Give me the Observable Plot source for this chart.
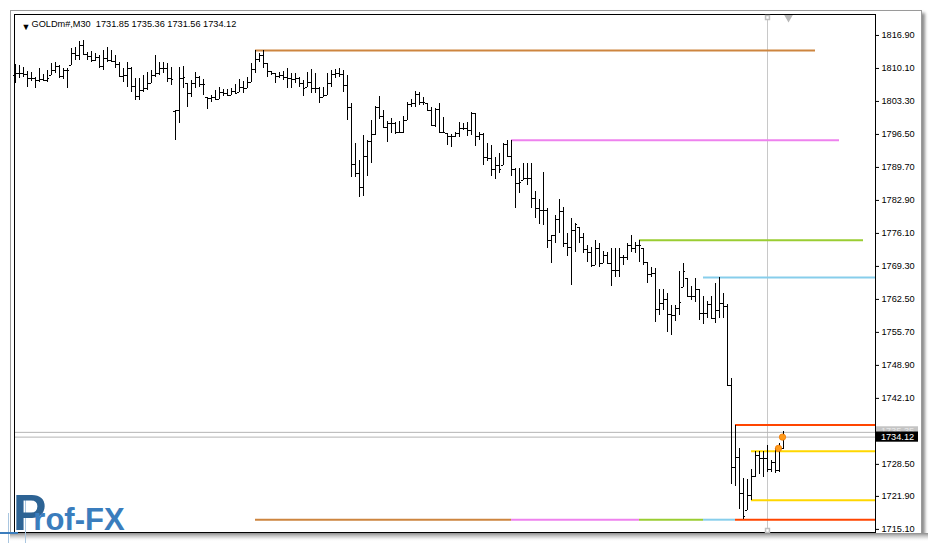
<!DOCTYPE html>
<html>
<head>
<meta charset="utf-8">
<script src="https://cdn.jsdelivr.net/npm/d3@7"></script>
<script src="https://cdn.jsdelivr.net/npm/@observablehq/plot@0.6"></script>
<style>
  html, body { margin: 0; padding: 0; background: #fff; }
  #wrap { position: relative; width: 934px; height: 543px; overflow: hidden; background: #fff; }
  #win { position: absolute; left: 10px; top: 10px; width: 912px; height: 524px; box-sizing: border-box;
         border: 1px solid #9a9a9a; box-shadow: 3px 3px 3px rgba(0,0,0,0.45); background: #fff; }
  #chart { position: absolute; left: 0; top: 0; }
  #mask { position: absolute; left: 10px; top: 533px; width: 918px; height: 10px;
          background: linear-gradient(to bottom, #8c8c8c 0px, #c8c8c8 3px, #f4f4f4 6px, #fff 8px); }
  #logo { position: absolute; left: 13px; top: 491px; font-family: "Liberation Sans", Arial, sans-serif;
          font-weight: bold; font-size: 31px; line-height: 0.9; color: #3a7dbd; white-space: nowrap; }
  #logo::first-letter { font-size: 50px; color: #2d6394; margin-right: -13px; }
  .deco { position: absolute; background: #a9c6e0; }
</style>
</head>
<body>
<div id="wrap">
  <div id="win"></div>
  <div id="chart"></div>
  <div id="mask"></div>
  <div class="deco" style="left:8px;top:513px;width:1px;height:30px;"></div>
  <div class="deco" style="left:25px;top:495px;width:1px;height:48px;"></div>
  <div class="deco" style="left:0px;top:532px;width:18px;height:2px;background:#3a7dbd;"></div>
  <div id="logo">Prof-FX</div>
</div>
<script>
// ---- Data (GOLDm#, M30) ----
const symbolTitle = "GOLDm#,M30  1731.85 1735.36 1731.56 1734.12";

const opens = [
  1808.7,1809.1,1809.1,1808.9,1808.0,1808.0,1807.6,1807.8,1807.6,1808.7,
  1809.7,1810.5,1808.4,1809.7,1810.7,1813.2,1812.8,1814.8,1813.0,1812.6,
  1811.7,1812.4,1810.5,1812.2,1811.7,1811.5,1810.9,1808.4,1808.7,1810.1,
  1806.4,1804.3,1805.6,1806.0,1807.0,1808.7,1809.1,1810.1,1810.1,1808.0,
  1801.2,1801.4,1808.0,1807.0,1804.9,1807.0,1808.2,1806.8,1804.1,1803.9,
  1804.1,1803.7,1805.2,1804.9,1804.5,1805.4,1805.2,1806.2,1806.0,1807.2,
  1809.9,1812.0,1812.8,1811.1,1809.5,1809.1,1808.4,1808.7,1808.2,1808.0,
  1807.8,1808.0,1807.0,1806.2,1807.2,1806.0,1806.0,1804.1,1804.5,1807.0,
  1808.9,1809.1,1808.9,1806.6,1802.1,1790.3,1788.5,1785.6,1792.0,1795.0,
  1796.5,1802.1,1800.2,1797.9,1798.8,1798.8,1796.9,1796.9,1799.4,1802.7,
  1802.9,1804.7,1803.1,1802.9,1801.4,1798.3,1801.6,1796.9,1796.7,1796.1,
  1796.1,1796.7,1797.7,1797.7,1797.3,1800.8,1796.1,1796.5,1791.8,1791.6,
  1789.2,1790.1,1790.1,1794.4,1792.0,1789.2,1786.4,1787.0,1787.4,1787.4,
  1783.3,1781.3,1780.8,1780.8,1774.7,1775.7,1779.0,1780.6,1774.1,1773.3,
  1776.7,1777.4,1775.3,1772.8,1772.2,1769.5,1773.0,1769.9,1771.6,1769.9,
  1768.5,1768.5,1771.1,1771.1,1773.6,1773.0,1773.6,1773.0,1770.1,1767.6,
  1767.9,1760.4,1761.7,1762.5,1759.4,1759.2,1760.6,1764.9,1766.8,1763.1,
  1763.1,1764.5,1759.6,1759.6,1761.5,1758.6,1760.2,1761.7,1761.0,1744.8,
  1727.9,1729.9,1722.5,1719.0,1722.1,1726.0,1730.3,1729.7,1729.7,1727.4,
  1728.9,1727.2,1731.85
];
const highs = [
  1810.9,1810.7,1810.3,1809.5,1809.3,1808.2,1810.1,1808.9,1809.7,1811.1,
  1811.3,1810.7,1810.1,1810.1,1814.2,1814.4,1815.7,1815.9,1813.4,1813.6,
  1813.2,1812.8,1813.8,1814.4,1813.8,1812.8,1811.3,1810.1,1811.3,1810.3,
  1808.0,1808.0,1808.7,1809.3,1809.7,1812.8,1811.3,1811.3,1811.1,1810.3,
  1801.4,1810.3,1810.5,1807.0,1807.6,1809.3,1808.4,1807.8,1804.1,1804.5,
  1805.6,1806.2,1805.8,1805.8,1806.0,1806.8,1807.8,1807.4,1808.2,1811.1,
  1813.8,1813.2,1813.8,1811.1,1809.5,1809.1,1809.3,1809.5,1810.1,1809.1,
  1809.1,1808.2,1807.6,1809.3,1809.9,1809.1,1806.2,1806.2,1809.1,1809.7,
  1809.9,1810.1,1809.7,1808.7,1802.9,1794.6,1791.1,1796.3,1795.3,1799.4,
  1802.3,1804.3,1801.4,1799.2,1799.8,1799.0,1799.2,1800.2,1803.1,1803.7,
  1805.4,1805.2,1804.1,1802.9,1802.1,1801.9,1802.9,1800.0,1796.7,1796.5,
  1796.9,1799.0,1798.8,1799.0,1801.0,1800.8,1796.9,1796.7,1794.6,1794.2,
  1791.8,1792.6,1794.6,1795.3,1795.3,1789.5,1789.5,1790.5,1790.5,1790.5,
  1784.8,1783.1,1788.7,1781.3,1775.7,1779.8,1783.1,1781.5,1776.1,1779.2,
  1778.2,1777.4,1776.1,1773.6,1773.2,1774.7,1774.1,1772.4,1772.2,1773.0,
  1773.0,1773.0,1771.6,1774.1,1775.7,1774.3,1774.7,1773.0,1770.1,1769.1,
  1768.9,1764.5,1764.5,1763.7,1761.2,1761.2,1768.3,1769.9,1766.8,1765.2,
  1766.8,1764.5,1763.1,1762.1,1763.1,1765.8,1767.0,1763.7,1761.5,1746.3,
  1736.6,1731.8,1725.6,1725.4,1727.4,1731.2,1731.2,1731.2,1732.4,1729.3,
  1731.8,1732.8,1735.36
];
const lows = [
  1807.0,1808.0,1808.2,1806.2,1807.4,1806.0,1807.2,1807.4,1807.2,1808.7,
  1809.1,1808.0,1807.8,1806.0,1810.7,1811.7,1811.7,1812.8,1811.7,1811.3,
  1811.5,1810.1,1809.7,1811.3,1811.3,1810.1,1808.2,1807.2,1806.2,1805.2,
  1803.5,1803.5,1805.2,1805.6,1807.0,1808.2,1808.7,1809.1,1807.2,1806.6,
  1795.3,1798.8,1806.0,1802.1,1804.1,1806.0,1806.2,1804.5,1801.6,1803.1,
  1803.5,1803.7,1804.3,1804.3,1804.5,1804.7,1805.2,1804.9,1806.0,1807.2,
  1809.1,1811.3,1810.1,1808.2,1808.7,1807.0,1808.0,1807.6,1806.0,1806.0,
  1807.0,1806.2,1804.3,1806.2,1804.9,1804.9,1802.9,1804.1,1804.5,1806.2,
  1808.0,1808.2,1805.2,1799.4,1787.7,1787.7,1783.6,1783.8,1787.9,1790.5,
  1796.3,1799.6,1797.7,1794.8,1796.7,1796.5,1796.7,1796.7,1799.4,1802.1,
  1802.1,1802.5,1802.5,1801.2,1798.3,1797.9,1796.7,1796.7,1794.2,1793.8,
  1795.9,1795.9,1797.3,1796.1,1796.3,1794.0,1795.3,1790.1,1790.9,1787.9,
  1787.2,1788.5,1790.1,1791.8,1787.9,1781.3,1784.4,1787.0,1786.0,1781.3,
  1779.2,1777.9,1777.7,1773.0,1769.9,1774.1,1776.1,1773.3,1771.4,1765.4,
  1772.2,1774.1,1772.0,1770.1,1769.1,1769.5,1769.1,1769.9,1769.7,1765.2,
  1767.0,1767.0,1769.5,1770.5,1772.2,1772.0,1770.1,1769.5,1765.8,1767.0,
  1757.7,1759.2,1760.2,1755.7,1755.1,1757.9,1759.2,1764.9,1762.9,1762.3,
  1761.9,1758.2,1757.3,1758.6,1758.4,1757.5,1758.6,1758.6,1744.8,1724.4,
  1724.0,1719.2,1717.1,1719.0,1721.1,1725.8,1726.4,1725.8,1726.8,1726.8,
  1726.6,1726.8,1731.56
];
const closes = [
  1809.1,1809.1,1808.9,1808.0,1808.0,1807.6,1807.8,1807.6,1808.0,1809.7,
  1810.5,1808.4,1809.7,1809.7,1813.2,1812.8,1814.8,1813.0,1812.6,1811.7,
  1812.4,1810.5,1812.2,1811.7,1811.5,1810.9,1808.4,1808.7,1810.1,1806.4,
  1804.3,1805.6,1806.0,1807.0,1808.7,1809.1,1810.1,1810.1,1808.0,1807.8,
  1801.4,1808.0,1808.2,1804.9,1807.0,1808.2,1806.8,1806.8,1803.9,1804.1,
  1803.7,1805.2,1804.9,1804.5,1805.4,1804.9,1806.2,1806.0,1807.2,1809.9,
  1812.0,1812.8,1811.1,1809.5,1809.1,1808.4,1808.7,1808.2,1808.0,1807.8,
  1808.0,1807.0,1806.0,1807.2,1806.0,1806.0,1804.1,1804.5,1807.0,1808.9,
  1809.1,1808.9,1806.6,1802.1,1790.3,1788.5,1785.6,1792.0,1795.0,1796.5,
  1802.1,1800.2,1797.9,1798.8,1798.8,1796.9,1796.9,1799.4,1802.7,1802.9,
  1804.7,1803.1,1803.1,1801.4,1798.3,1801.6,1796.9,1796.9,1796.1,1796.1,
  1796.7,1797.7,1797.7,1797.3,1800.8,1796.1,1796.5,1791.8,1791.6,1789.2,
  1790.1,1789.2,1794.4,1792.0,1789.2,1786.4,1786.6,1787.4,1787.4,1783.3,
  1781.3,1780.8,1780.8,1774.7,1775.7,1779.0,1780.6,1774.1,1773.3,1776.7,
  1778.0,1775.3,1772.8,1772.2,1769.5,1773.0,1769.9,1771.6,1769.9,1768.5,
  1768.5,1771.1,1771.1,1773.6,1773.0,1773.6,1773.6,1770.1,1767.6,1767.9,
  1760.4,1761.7,1762.5,1759.4,1759.2,1760.6,1761.9,1768.3,1763.1,1763.1,
  1764.5,1759.6,1759.6,1761.5,1758.6,1760.2,1761.7,1761.0,1744.8,1727.9,
  1729.9,1722.5,1717.7,1722.1,1726.0,1730.3,1729.7,1729.7,1727.4,1728.9,
  1727.2,1731.8,1734.12
];

// Resistance levels (price, start bar, end bar) and their colours
const levelPrices = [1813.8, 1795.3, 1774.7, 1767.0];
const levelStart  = [60, 124, 156, 172];
const levelEnd    = [200, 206, 212, 215];
const levelColors = ["#CD853F", "#EE82EE", "#9ACD32", "#87CEEB"];
const supportPrice = 1717.1;   // common low line drawn under each level

// Current range box
const rangePrices = [1736.6, 1731.2, 1721.1, 1717.1];
const rangeStart  = [180, 184, 184, 180];
const rangeColors = ["#FF4500", "#FFD700", "#FFD700", "#FF4500"];

// Bid / ask
const bidPrice = 1734.12;
const askPrice = 1735.1;
const askLabel = "1735.35";
const bidLabel = "1734.12";

// Markers
const markerBars = [191, 192];
const markerPrices = [1731.8, 1734.12];

const separatorBar = 188;

// (the 1735.30 label sits under the ask box and is not visible)
const yTickLabels = ["1816.90","1810.10","1803.30","1796.50","1789.70","1782.90","1776.10","1769.30",
                     "1762.50","1755.70","1748.90","1742.10","1728.50","1721.90","1715.10"];

// ---- Build ----
const bars = opens.map((o, i) => ({i, o, h: highs[i], l: lows[i], c: closes[i]}));
const levels = levelPrices.map((p, k) => ({p, s: levelStart[k], e: levelEnd[k], color: levelColors[k],
  ls: levelStart[k], le: k < levelStart.length - 1 ? levelStart[k + 1] : rangeStart[0]}));
const ranges = rangePrices.map((p, k) => ({p, s: rangeStart[k], color: rangeColors[k]}));
const markers = markerBars.map((b, k) => ({b, p: markerPrices[k]}));

const font = "Liberation Sans, Arial, sans-serif";
const xMax = 215;

const marks = [];
if (typeof Plot.axisY === "function") {
  marks.push(Plot.axisY(yTickLabels.map(Number), {
    anchor: "right", tickSize: 3, tickPadding: 3, label: null,
    tickFormat: d => d.toFixed(2), fill: "black", stroke: "black"
  }));
}
marks.push(
  Plot.ruleX([separatorBar], {stroke: "#c8c8c8"}),
  Plot.ruleY([askPrice, bidPrice], {stroke: "#b4b4b4"}),
  ...levels.map(l => Plot.ruleY([l], {y: "p", x1: "s", x2: "e", stroke: l.color, strokeWidth: 2})),
  ...levels.map(l => Plot.ruleY([l], {y: () => supportPrice, x1: "ls", x2: "le", stroke: l.color, strokeWidth: 2})),
  ...ranges.map(r => Plot.ruleY([r], {y: "p", x1: "s", x2: xMax, stroke: r.color, strokeWidth: 2})),
  Plot.ruleX(bars, {x: "i", y1: "l", y2: "h", stroke: "black", strokeWidth: 1, shapeRendering: "crispEdges"}),
  Plot.ruleY(bars, {y: "o", x1: d => d.i - 0.5, x2: "i", stroke: "black", strokeWidth: 1, shapeRendering: "crispEdges"}),
  Plot.ruleY(bars, {y: "c", x1: "i", x2: d => d.i + 0.55, stroke: "black", strokeWidth: 1, shapeRendering: "crispEdges"}),
  Plot.dot(markers, {x: "b", y: "p", dx: -1, r: 3.2, fill: "#FF9A1A", stroke: "#F27A00", strokeWidth: 0.8}),
  Plot.frame({stroke: "black"}),
  // price labels on the axis
  Plot.rect([{p: askPrice}], {x1: xMax + 0.25, x2: xMax + 10.75, y1: d => d.p - 1.15, y2: d => d.p + 1.15, fill: "#c4c4c4"}),
  Plot.text([{p: askPrice}], {x: xMax + 5.5, y: "p", dy: -1, text: () => askLabel, fill: "#e8e8e8", fontSize: 9.2}),
  Plot.rect([{p: bidPrice}], {x1: xMax + 0.25, x2: xMax + 10.75, y1: d => d.p - 1.05, y2: d => d.p + 1.05, fill: "black"}),
  Plot.text([{p: bidPrice}], {x: xMax + 5.5, y: "p", text: () => bidLabel, fill: "white", fontSize: 9.2}),
  // title
  Plot.text([symbolTitle], {frameAnchor: "top-left", dx: 17, dy: 9.5, text: d => d, textAnchor: "start",
    lineAnchor: "middle", fill: "black", fontSize: 9.2}),
  Plot.text(["\u25BC"], {frameAnchor: "top-left", dx: 7, dy: 9.5, text: d => d, fill: "black", fontSize: 9}),
  // chart shift marker and separator handles
  Plot.dot([0], {frameAnchor: "top-left", dx: 774, dy: 3, symbol: "triangle", rotate: 180, r: 3.2, fill: "#b8b8b8"}),
  Plot.dot([0], {frameAnchor: "top-left", dx: 753, dy: 3, symbol: "square", r: 2.2, fill: "white", stroke: "#c0c0c0"}),
  Plot.dot([0], {frameAnchor: "bottom-left", dx: 753, dy: -2, symbol: "square", r: 2.2, fill: "white", stroke: "#c0c0c0"})
);

const yOpts = {domain: [1714.46, 1821.22]};
if (typeof Plot.axisY !== "function") {
  Object.assign(yOpts, {axis: "right", ticks: yTickLabels.map(Number), tickFormat: d => d.toFixed(2),
    tickSize: 3, tickPadding: 3, label: null});
} else {
  yOpts.axis = null;
}

const chart = Plot.plot({
  width: 934,
  height: 543,
  marginLeft: 14,
  marginRight: 59,
  marginTop: 14,
  marginBottom: 11,
  x: {domain: [-0.25, xMax], axis: null},
  y: yOpts,
  style: {background: "transparent", fontFamily: font, fontSize: "9.2px", color: "black", overflow: "visible"},
  marks
});
document.getElementById("chart").appendChild(chart);
</script>
</body>
</html>
